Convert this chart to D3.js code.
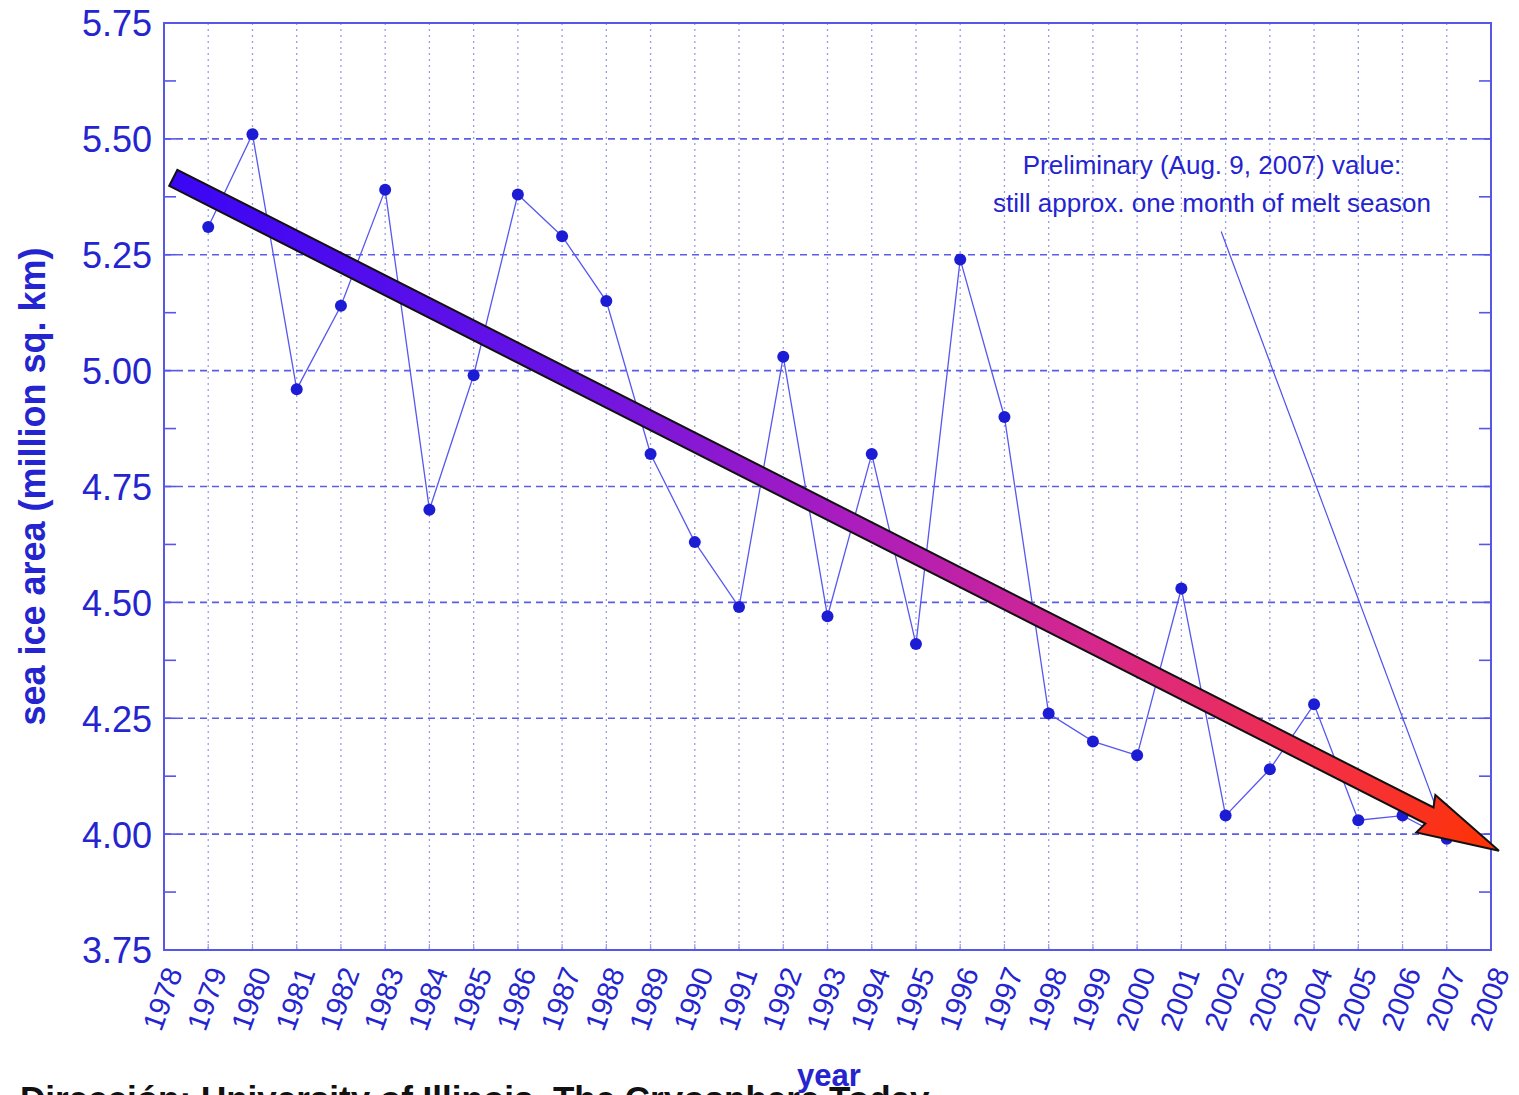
<!DOCTYPE html>
<html>
<head>
<meta charset="utf-8">
<script src="https://cdn.jsdelivr.net/npm/d3@7/dist/d3.min.js"></script>
<style>
  body { margin: 0; background: #fff; }
  svg { display: block; }
</style>
</head>
<body>
<div id="plot"></div>
<script>
'use strict';

// September sea ice area, Arctic (million sq. km)
const years = [1979, 1980, 1981, 1982, 1983, 1984, 1985, 1986, 1987, 1988,
  1989, 1990, 1991, 1992, 1993, 1994, 1995, 1996, 1997, 1998,
  1999, 2000, 2001, 2002, 2003, 2004, 2005, 2006, 2007]
const area = [5.31, 5.51, 4.96, 5.14, 5.39, 4.70, 4.99, 5.38, 5.29, 5.15,
  4.82, 4.63, 4.49, 5.03, 4.47, 4.82, 4.41, 5.24, 4.90, 4.26,
  4.20, 4.17, 4.53, 4.04, 4.14, 4.28, 4.03, 4.04, 3.99]
const yTicks = [3.75, 4.00, 4.25, 4.50, 4.75, 5.00, 5.25, 5.50, 5.75]
const xTicks = d3.range(1978, 2009)
// trend arrow, from / to (year, area)
const trendFrom = [1978.21, 5.416]
const trendTo = [2008.18, 3.964]
// annotation leader (year, area) -> points at the 2007 value
const noteAnchor = [2001.9, 5.30]
const noteText = ['Preliminary (Aug. 9, 2007) value:', 'still approx. one month of melt season']

const width = 1519, height = 1095
const m = {left: 164, right: 28, top: 23, bottom: 145}
const blue = '#2424d0'
const axisCol = '#5656ea'

let svg = d3.select('#plot').append('svg')
  .attr('width', width)
  .attr('height', height)
  .style('font-family', 'Liberation Sans, Arial, sans-serif')

let x = d3.scaleLinear().domain([1978, 2008]).range([m.left, width - m.right])
let y = d3.scaleLinear().domain([3.75, 5.75]).range([height - m.bottom, m.top])

// vertical dotted grid
svg.append('g')
  .selectAll('line')
  .data(xTicks.slice(1, -1))
  .enter()
  .append('line')
  .attr('x1', d => x(d)).attr('x2', d => x(d))
  .attr('y1', y(5.75)).attr('y2', y(3.75))
  .attr('stroke', '#9a9aee')
  .attr('stroke-width', 1.3)
  .attr('stroke-dasharray', '2,4')

// horizontal dashed grid
svg.append('g')
  .selectAll('line')
  .data(yTicks.slice(1, -1))
  .enter()
  .append('line')
  .attr('x1', x(1978)).attr('x2', x(2008))
  .attr('y1', d => y(d)).attr('y2', d => y(d))
  .attr('stroke', '#5c5ce8')
  .attr('stroke-width', 1.6)
  .attr('stroke-dasharray', '7,5')

// axes
let yLeft = d3.axisLeft(y).tickValues(yTicks).tickFormat(d3.format('.2f')).tickSize(0).tickPadding(12)
let gy = svg.append('g')
  .attr('transform', `translate(${m.left}, 0)`)
  .call(yLeft)
gy.select('.domain').remove()
gy.selectAll('text')
  .attr('fill', blue)
  .attr('font-size', '36px')
  .attr('font-family', 'Liberation Sans, Arial, sans-serif')
  .attr('dy', '0.36em')

let minor = d3.range(3.875, 5.75, 0.125)
let tk = svg.append('g')
tk.selectAll('.tl')
  .data(minor)
  .enter()
  .append('line')
  .attr('x1', x(1978)).attr('x2', x(1978) + 12)
  .attr('y1', d => y(d)).attr('y2', d => y(d))
  .attr('stroke', axisCol).attr('stroke-width', 1.6)
tk.selectAll('.tr')
  .data(minor)
  .enter()
  .append('line')
  .attr('x1', x(2008)).attr('x2', x(2008) - 12)
  .attr('y1', d => y(d)).attr('y2', d => y(d))
  .attr('stroke', axisCol).attr('stroke-width', 1.6)
tk.selectAll('.tb')
  .data(xTicks)
  .enter()
  .append('line')
  .attr('x1', d => x(d)).attr('x2', d => x(d))
  .attr('y1', y(3.75)).attr('y2', y(3.75) - 6)
  .attr('stroke', '#9a9aee').attr('stroke-width', 1.2)

svg.append('rect')
  .attr('x', x(1978)).attr('y', y(5.75))
  .attr('width', x(2008) - x(1978))
  .attr('height', y(3.75) - y(5.75))
  .attr('fill', 'none')
  .attr('stroke', axisCol)
  .attr('stroke-width', 2)

// x tick labels, slanted
svg.append('g')
  .selectAll('text')
  .data(xTicks)
  .enter()
  .append('text')
  .attr('transform', d => `translate(${x(d) + 19}, ${y(3.75) + 22}) rotate(-70)`)
  .attr('text-anchor', 'end')
  .attr('fill', blue)
  .attr('font-size', '29px')
  .text(d => d)

// axis titles
svg.append('text')
  .attr('transform', `translate(45, ${(y(3.75) + y(5.75)) / 2}) rotate(-90)`)
  .attr('text-anchor', 'middle')
  .attr('fill', blue)
  .attr('font-size', '36px')
  .attr('font-weight', 'bold')
  .text('sea ice area (million sq. km)')

// source line, clipped by the bottom edge
svg.append('text')
  .attr('x', 20).attr('y', 1111)
  .attr('fill', '#111')
  .attr('font-size', '35px')
  .attr('font-weight', 'bold')
  .text('Dirección: University of Illinois, The Cryosphere Today')

svg.append('text')
  .attr('x', 829).attr('y', 1086)
  .attr('text-anchor', 'middle')
  .attr('fill', blue)
  .attr('font-size', '31px')
  .attr('font-weight', 'bold')
  .text('year')

// annotation
let note = svg.append('g')
note.selectAll('text')
  .data(noteText)
  .enter()
  .append('text')
  .attr('x', 1212)
  .attr('y', (d, i) => 174 + i * 38)
  .attr('text-anchor', 'middle')
  .attr('fill', blue)
  .attr('font-size', '26px')
  .text(d => d)
note.append('line')
  .attr('x1', x(noteAnchor[0])).attr('y1', y(noteAnchor[1]))
  .attr('x2', x(2007) - 2).attr('y2', y(area[area.length - 1]) - 8)
  .attr('stroke', '#5050ee')
  .attr('stroke-width', 1.2)

// data line and points
let line = d3.line()
  .x((d, i) => x(years[i]))
  .y(d => y(d))
svg.append('path')
  .attr('d', line(area))
  .attr('fill', 'none')
  .attr('stroke', '#5858f0')
  .attr('stroke-width', 1.3)
svg.append('g')
  .selectAll('circle')
  .data(area)
  .enter()
  .append('circle')
  .attr('cx', (d, i) => x(years[i]))
  .attr('cy', d => y(d))
  .attr('r', 6)
  .attr('fill', '#1c1cd4')

// trend arrow with colour gradient
let x0 = x(trendFrom[0]), y0 = y(trendFrom[1])
let x1 = x(trendTo[0]), y1 = y(trendTo[1])
let len = Math.hypot(x1 - x0, y1 - y0)
let ang = Math.atan2(y1 - y0, x1 - x0) * 180 / Math.PI
let grad = svg.append('defs').append('linearGradient')
  .attr('id', 'trend')
  .attr('gradientUnits', 'userSpaceOnUse')
  .attr('x1', 0).attr('x2', len).attr('y1', 0).attr('y2', 0)
const stops = [[0, '#3a06f4'], [0.3, '#6a14e4'], [0.5, '#a81cc0'], [0.7, '#d8288a'], [0.88, '#f43040'], [1, '#ff3300']]
grad.selectAll('stop')
  .data(stops)
  .enter()
  .append('stop')
  .attr('offset', d => d[0])
  .attr('stop-color', d => d[1])
let head = 82, hw = 21, sw = 9
let ag = svg.append('g')
  .attr('transform', `translate(${x0}, ${y0}) rotate(${ang})`)
ag.append('path')
  .attr('d', `M0,${-sw} L${len - head + 4},${-sw} L${len - head},${-hw} L${len},0 L${len - head},${hw} L${len - head + 4},${sw} L0,${sw} Z`)
  .attr('fill', 'url(#trend)')
  .attr('stroke', '#111')
  .attr('stroke-width', 2)
  .attr('stroke-linejoin', 'miter')
</script>
</body>
</html>
